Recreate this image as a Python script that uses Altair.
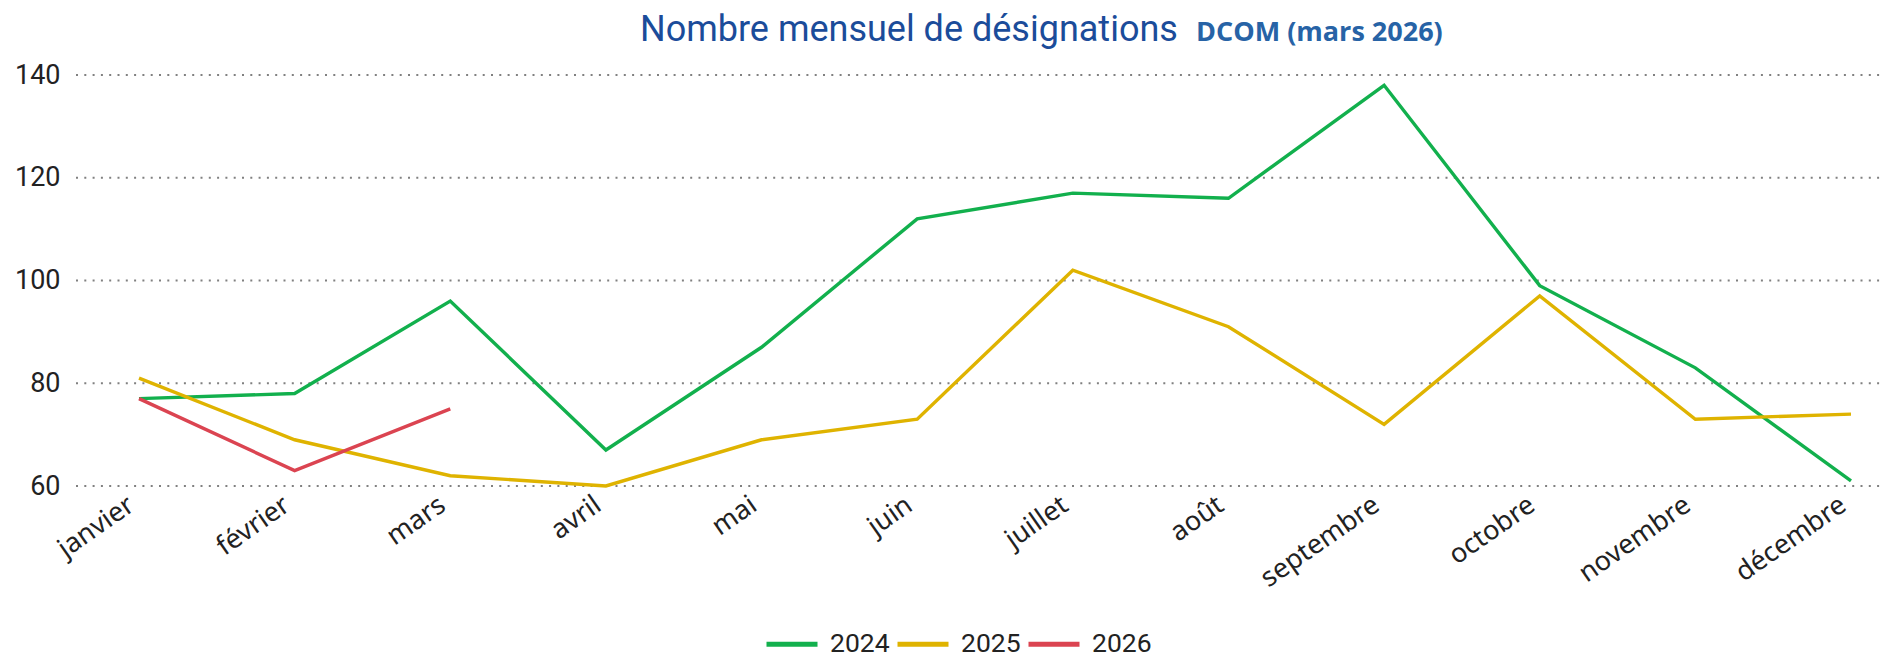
import altair as alt
import pandas as pd

months = ["janvier", "février", "mars", "avril", "mai", "juin", "juillet",
          "août", "septembre", "octobre", "novembre", "décembre"]
v2024 = [77, 78, 96, 67, 87, 112, 117, 116, 138, 99, 83, 61]
v2025 = [81, 69, 62, 60, 69, 73, 102, 91, 72, 97, 73, 74]
v2026 = [77, 63, 75]
years = ["2024", "2025", "2026"]
colors = ["#12b04d", "#dfb300", "#db4451"]
y_ticks = [60, 80, 100, 120, 140]
title_main = "Nombre mensuel de désignations"
title_bold = "DCOM (mars 2026)"

rows = []
for yr, vals in zip(years, [v2024, v2025, v2026]):
    for i, v in enumerate(vals):
        rows.append({"mois": months[i], "idx": i, "annee": yr, "valeur": v})
df = pd.DataFrame(rows)

W, H = 1806, 411
yscale = alt.Scale(domain=[60, 140], nice=False, zero=False)
yaxis = alt.Axis(title=None, domain=False, ticks=False, values=y_ticks,
                 labelFont="Roboto", labelFontSize=27, labelColor="#222222",
                 labelPadding=16, grid=False)

grid = alt.Chart(pd.DataFrame({"v": y_ticks})).mark_rule(
    strokeDash=[2, 6.3], color="#808080", strokeWidth=2
).encode(y=alt.Y("v:Q", scale=yscale, axis=yaxis), x=alt.value(0), x2=alt.value(W))

lines = alt.Chart(df).mark_line(strokeWidth=3.4).encode(
    x=alt.X("mois:N", sort=months,
            scale=alt.Scale(type="point", range=[63, 1775], padding=0),
            axis=alt.Axis(title=None, domain=False, ticks=False, grid=False,
                          labelAngle=325, labelAlign="right", labelBaseline="middle",
                          labelFont="Noto Sans", labelFontSize=27, labelColor="#222222",
                          labelPadding=16, labelOffset=-8)),
    y=alt.Y("valeur:Q", scale=yscale, axis=yaxis),
    color=alt.Color("annee:N", scale=alt.Scale(domain=years, range=colors),
                    legend=alt.Legend(orient="none", legendX=688, legendY=541,
                                      direction="horizontal", title=None,
                                      symbolType="stroke", symbolSize=2601,
                                      symbolStrokeWidth=5, labelFont="Roboto",
                                      labelFontSize=26.5, labelColor="#222222",
                                      labelOffset=10, columnPadding=-3,
                                      labelLimit=0, padding=0)),
    order=alt.Order("idx:Q"),
)

t1 = alt.Chart(pd.DataFrame({"t": [title_main]})).mark_text(
    align="left", baseline="alphabetic", font="Roboto", fontSize=36, color="#1b4c9a"
).encode(x=alt.value(640 - 76), y=alt.value(41 - 75), text="t:N")

t2 = alt.Chart(pd.DataFrame({"t": [title_bold]})).mark_text(
    align="left", baseline="alphabetic", font="Open Sans", fontSize=27,
    fontWeight="bold", color="#2763a6"
).encode(x=alt.value(1196 - 76), y=alt.value(41 - 75), text="t:N")

chart = alt.layer(grid, lines, t1, t2).properties(
    width=W, height=H,
    background="white",
    autosize=alt.AutoSizeParams(type="none"),
    padding={"left": 76, "top": 75, "right": 3, "bottom": 173},
).configure_view(strokeWidth=0, stroke="transparent")

chart.save("out.html", embed_options={"renderer": "svg", "actions": False})
